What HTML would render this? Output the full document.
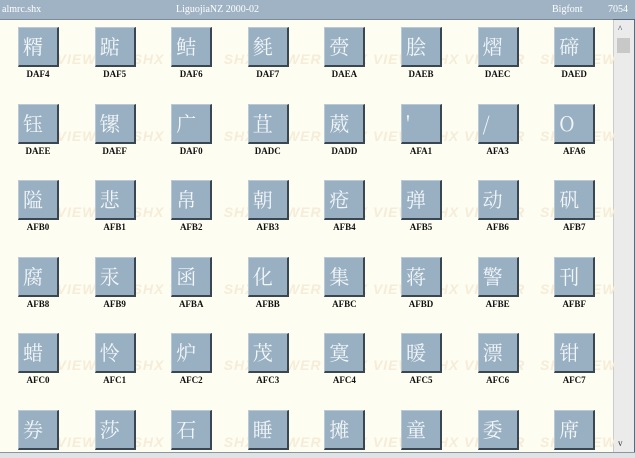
<!DOCTYPE html>
<html><head><meta charset="utf-8"><style>
body{margin:0;width:635px;height:457px;overflow:hidden;background:#5a6a78;font-family:"Liberation Serif","Noto Serif CJK SC",serif;position:relative}
#t{position:absolute;left:0;top:0;width:635px;height:19px;background:#9fb3c4;color:#fff;font-size:10px;}
#t span{position:absolute;top:4px}
#c{position:absolute;left:0;top:19px;width:613px;height:433px;background:#fdfdf2;overflow:hidden;border-top:1px solid #7e8c96}
#sb{position:absolute;left:613px;top:20px;width:20px;height:432px;background:#ebebeb;border-left:1px solid #ccc}
.b{position:absolute;height:37px;background:#99b0c2;border:1px solid #b9cad6;border-right:2px solid #3a4650;border-bottom:2px solid #3a4650;color:#f2f6fa;font-family:"Noto Serif CJK SC","WenQuanYi Zen Hei",serif;font-size:20px;line-height:36px;text-align:left;padding-left:4px;box-sizing:content-box;width:34px}
.l{position:absolute;width:60px;text-align:center;font-size:9px;color:#111;font-weight:bold}
.w{position:absolute;color:#f6ecd8;font:bold italic 14px "Liberation Sans",sans-serif;letter-spacing:1px;white-space:nowrap}
#bot{position:absolute;left:0;top:452px;width:635px;height:5px;background:#dfe3e6;border-top:1px solid #8a97a0}
</style></head><body>
<div id="t"><span style="left:2px">almrc.shx</span><span style="left:176px">LiguojiaNZ 2000-02</span><span style="left:552px">Bigfont</span><span style="left:608px">7054</span></div>
<div id="c"></div>
<div id="sb"><div style="position:absolute;left:4px;top:4px;font-size:9px;color:#333">^</div><div style="position:absolute;left:3px;top:18px;width:13px;height:15px;background:#c8c8c8"></div><div style="position:absolute;left:4px;top:418px;font-size:9px;color:#333">v</div></div>
<div id="bot"></div>
<div id="g"></div>
<script>
var ch=["糈","踮","鲒","毵","赍","脍","熠","碲","钰","镙","广","苴","葳","'","/","O","隘","悲","帛","朝","疮","弹","动","矾","腐","汞","函","化","集","蒋","警","刊","蜡","怜","炉","茂","寞","暖","漂","钳","券","莎","石","睡","摊","童","委","席"];
var lb=["DAF4","DAF5","DAF6","DAF7","DAEA","DAEB","DAEC","DAED","DAEE","DAEF","DAF0","DADC","DADD","AFA1","AFA3","AFA6","AFB0","AFB1","AFB2","AFB3","AFB4","AFB5","AFB6","AFB7","AFB8","AFB9","AFBA","AFBB","AFBC","AFBD","AFBE","AFBF","AFC0","AFC1","AFC2","AFC3","AFC4","AFC5","AFC6","AFC7","","","","","","","",""];
var h="";
for(var r=0;r<6;r++){var y=27+r*76.5;
h+='<div class="w" style="left:20px;top:'+(y+24)+'px">SHX VIEWER &nbsp; SHX VIEW &nbsp; SHX VIEWER &nbsp; SHX VIEW &nbsp; SHX VIEWER &nbsp; SHX VIEW</div>';}
for(var i=0;i<48;i++){var r=Math.floor(i/8),c=i%8;var x=18+c*76.6,y=27+r*76.5;
h+='<div class="b" style="left:'+x+'px;top:'+y+'px">'+ch[i]+'</div>';
if(lb[i])h+='<div class="l" style="left:'+(x-10)+'px;top:'+(y+42)+'px">'+lb[i]+'</div>';}
document.getElementById("g").innerHTML=h;
</script>
</body></html>
